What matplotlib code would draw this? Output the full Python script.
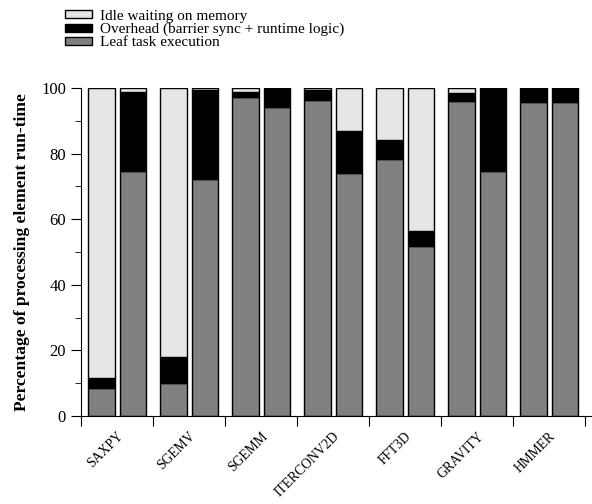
import numpy as np
import matplotlib
matplotlib.use('Agg')
import matplotlib.pyplot as plt
from matplotlib.patches import Patch

plt.rcParams['font.family'] = ['Liberation Serif', 'DejaVu Serif']

benchmarks = ['SAXPY', 'SGEMV', 'SGEMM', 'ITERCONV2D', 'FFT3D', 'GRAVITY', 'HMMER']

# two bars per benchmark (left, right), values in percent
leaf_left = [8.4, 10.1, 97.3, 96.3, 78.5, 96.0, 95.8]
overhead_left = [3.0, 7.9, 1.4, 3.2, 5.6, 2.4, 4.2]
leaf_right = [74.6, 72.4, 94.3, 74.0, 51.9, 74.8, 95.9]
overhead_right = [24.2, 27.1, 5.7, 13.0, 4.5, 25.2, 4.1]

idle_left = [100 - a - b for a, b in zip(leaf_left, overhead_left)]
idle_right = [100 - a - b for a, b in zip(leaf_right, overhead_right)]

c_idle = '#e5e5e5'
c_over = '#000000'
c_leaf = '#808080'

fig = plt.figure(figsize=(5.92, 5.04), dpi=100)
ax = fig.add_axes([0.1363, 0.175, 0.8637, 0.65])

x = np.arange(len(benchmarks))
w = 0.37
pos_l = x + 0.291
pos_r = x + 0.726

for pos, leaf, over, idle in [(pos_l, leaf_left, overhead_left, idle_left),
                              (pos_r, leaf_right, overhead_right, idle_right)]:
    leaf = np.array(leaf)
    over = np.array(over)
    ax.bar(pos, leaf, w, color=c_leaf, edgecolor='black', linewidth=1.0)
    ax.bar(pos, over, w, bottom=leaf, color=c_over, edgecolor='black', linewidth=1.0)
    ax.bar(pos, idle, w, bottom=leaf + over, color=c_idle, edgecolor='black', linewidth=1.0)

ax.set_xlim(0, 7.1)
ax.set_ylim(0, 100)
ax.spines['top'].set_visible(False)
ax.spines['right'].set_visible(False)

ax.set_yticks(np.arange(0, 101, 20))
ax.set_yticks(np.arange(10, 100, 20), minor=True)
ax.tick_params(axis='y', which='major', length=7, labelsize=12, direction='out')
ax.tick_params(axis='y', which='minor', length=4, direction='out')

ax.set_xticks(np.arange(0, 8))
ax.set_xticklabels([])
ax.set_xticks(x + 0.63, minor=True)
ax.set_xticklabels(benchmarks, minor=True, rotation=45, ha='right', fontsize=9.8)
ax.tick_params(axis='x', which='major', length=7, direction='out')
ax.tick_params(axis='x', which='minor', length=0, pad=10)

ax.set_ylabel('Percentage of processing element run-time', fontsize=12.6,
              fontweight='bold', labelpad=8)

handles = [Patch(facecolor=c_idle, edgecolor='black'),
           Patch(facecolor=c_over, edgecolor='black'),
           Patch(facecolor=c_leaf, edgecolor='black')]
labels = ['Idle waiting on memory',
          'Overhead (barrier sync + runtime logic)',
          'Leaf task execution']
fig.legend(handles, labels, loc='upper left', bbox_to_anchor=(0.087, 1.008),
           frameon=False, fontsize=11, handlelength=1.75, handleheight=0.42,
           labelspacing=0.0, handletextpad=0.5)

fig.savefig('out.png', dpi=100)
